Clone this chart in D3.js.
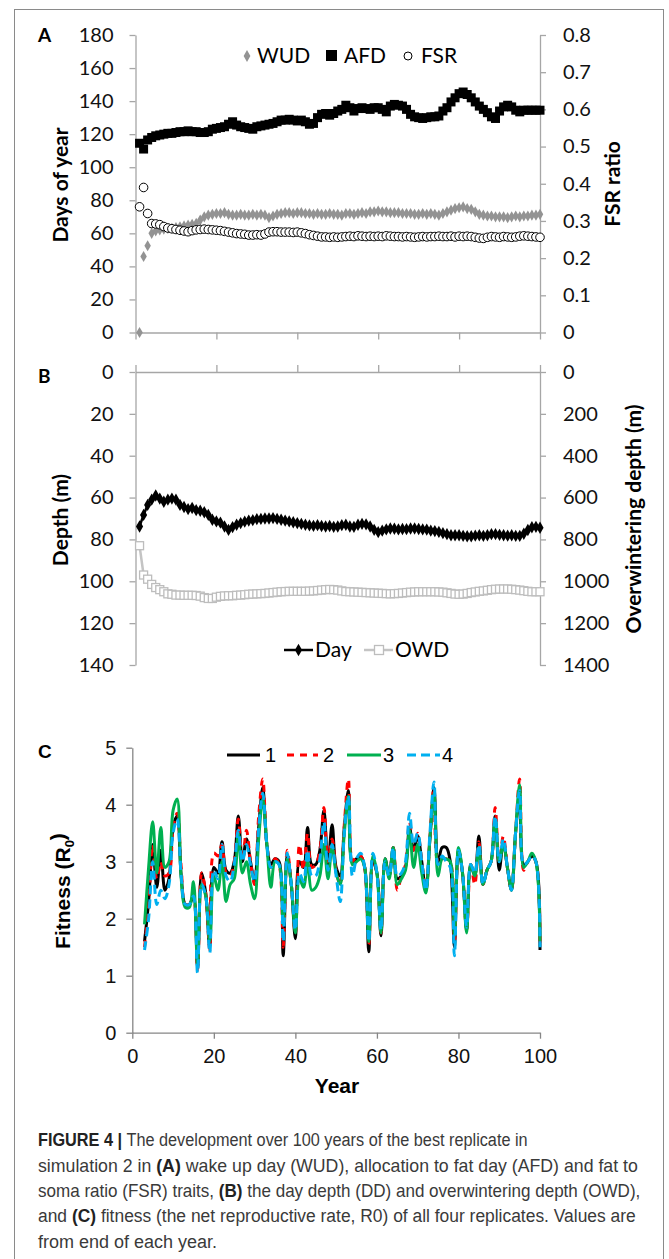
<!DOCTYPE html>
<html><head><meta charset="utf-8">
<script src="https://cdn.jsdelivr.net/npm/d3@7"></script>
<style>body{margin:0;background:#fff}svg{display:block}</style>
</head><body>
<svg id="c" width="669" height="1259"></svg>
<script>
// ---------- DATA ----------
const firstYearAB = 1;
const wud = [0,46,52.5,60,61.5,62,62.5,63,63,63.5,
 64,64.5,65,65.5,66,68,70,71,71.5,72,
 72,72.5,71.5,71,71,71.5,71,71,71.5,71,
 71.5,71,69.5,70.5,71.5,72,72.5,72.5,72,72.5,
 72.5,72,72,71.5,72,71.5,71.5,72,71.5,71.5,
 71,72,72,71.5,72,72.5,72,73,73,73.5,
 73,73,72.5,72.5,72.5,72,72,72,71.5,71.5,
 72,71.5,72,71.5,71,72,73,74,75,75.5,
 76,75,74.5,73,71.5,71,70.5,70.5,70,70,
 70,69.5,70,70.5,70,70.5,70.5,71,71,71.5];
const afd = [114.5,111,116.5,118,119,119.5,120,120.5,120.5,121,
 121.5,121.5,122,121.5,121.5,121,121,121.5,123,123.5,
 124,124.5,126,127.5,125.5,124.5,124,123.5,123,124.5,
 125,125.5,126,126.5,127.5,128.5,128.5,129,128.5,128,
 128.5,127.5,126,126.5,130,132,132.5,131.5,132.5,134,
 135,137.5,136,134,135.5,136,135.5,135,136,136,
 135,133.5,137,138,137.5,137,135,132,130.5,130,
 129.5,130,130.5,130.5,131,134,136,139.5,142,144.5,
 145.5,144,142,139.5,137,135,133,130.5,129.5,134,
 136.5,137.5,136.5,134.5,133.5,134.5,134.5,134.5,134.5,134.5];
const fsr = [0.338,0.39,0.32,0.293,0.292,0.29,0.285,0.281,0.279,0.277,
 0.275,0.273,0.271,0.274,0.276,0.277,0.278,0.277,0.276,0.275,
 0.274,0.272,0.27,0.268,0.266,0.265,0.264,0.262,0.262,0.263,
 0.262,0.265,0.27,0.271,0.271,0.27,0.27,0.27,0.269,0.27,
 0.268,0.266,0.263,0.261,0.259,0.257,0.257,0.256,0.257,0.256,
 0.257,0.258,0.259,0.258,0.26,0.259,0.258,0.259,0.258,0.259,
 0.258,0.26,0.259,0.258,0.258,0.257,0.258,0.257,0.256,0.257,
 0.258,0.257,0.258,0.258,0.259,0.258,0.258,0.259,0.257,0.259,
 0.258,0.259,0.258,0.256,0.254,0.253,0.256,0.258,0.257,0.256,
 0.258,0.257,0.256,0.257,0.259,0.26,0.259,0.258,0.257,0.256];
const dayDepth = [73.8,68.3,63.5,61,59,60.5,62,61,60.5,61,
 63.5,64.5,65.5,65,66,66.3,67,68.3,70.6,71.4,
 72,73.8,75.4,74.1,73,72.2,71.5,71,70.8,70.3,
 70.2,70,70,69.8,70.2,70.6,71,71.4,71.8,72.2,
 72.6,73,73.3,73.5,73.2,73.6,73.8,73.6,74,73.8,
 73.2,73,73.8,74,73,72.6,72.8,73.8,75.4,76.5,
 75.8,75.2,74.8,74.9,75.2,75,75.1,74.8,74.8,75,
 75.2,75.3,75.8,76,76.4,77,77.5,78,78,78,
 78.3,78.5,78.5,78.2,78,78.3,78,77.5,77.5,77.8,
 78,78.2,78,78.3,78.3,77.3,75.5,74.2,74,74.4];
const owd = [830,970,990,1015,1030,1040,1050,1060,1062,1066,
 1066,1067,1067,1067,1068,1071,1078,1082,1082,1076,
 1072,1070,1069,1069,1067,1066,1064,1062,1061,1060,
 1059,1058,1056,1054,1052,1050,1049,1048,1048,1048,
 1048,1048,1047,1046,1044,1042,1040,1039,1040,1042,
 1046,1049,1050,1051,1052,1053,1054,1055,1056,1057,
 1058,1059,1060,1059,1058,1056,1054,1052,1051,1050,
 1050,1050,1050,1050,1051,1052,1055,1058,1061,1062,
 1061,1058,1054,1051,1048,1046,1043,1040,1038,1037,
 1037,1037,1038,1040,1042,1045,1048,1050,1050,1050];
const firstYearC = 3;
const rep1 = [1.6,2.3,3.3,2.55,3.2,2.5,2.7,3.6,3.8,2.75,
 2.25,2.25,2.4,1.15,2.8,2.45,1.5,2.9,2.8,3.35,
 2.85,2.8,3.0,3.8,3.0,3.4,3.0,2.65,3.6,4.3,
 3.3,2.95,3.05,3.0,1.35,3.1,2.6,1.65,3.0,2.9,
 3.6,2.95,2.95,3.2,3.9,2.95,3.65,2.9,2.75,3.6,
 4.25,3.0,3.05,3.1,2.9,1.42,3.0,2.8,1.7,3.05,
 2.75,3.25,2.7,2.75,2.9,3.6,3.2,3.45,3.0,2.5,
 3.4,4.3,3.0,3.25,3.25,3.0,1.5,3.2,2.8,1.8,
 2.95,2.75,3.45,2.6,2.85,3.0,3.8,2.85,3.35,2.9,
 2.5,3.5,4.2,2.95,3.0,3.1,3.0,1.45];
const rep2 = [1.5,2.2,3.3,2.7,3.0,2.75,2.8,3.6,3.85,2.9,
 2.25,2.25,2.4,1.1,2.8,2.45,1.45,3.15,3.1,3.3,
 2.8,2.75,3.0,3.75,3.0,3.55,3.0,2.6,3.8,4.45,
 3.3,2.9,3.05,2.95,1.5,3.2,2.6,1.75,3.3,2.85,
 3.5,2.9,2.95,3.2,3.95,3.0,3.4,2.85,2.6,3.65,
 4.45,3.0,3.1,3.1,2.9,1.55,3.05,2.8,1.75,3.0,
 2.75,3.25,2.5,2.75,2.95,3.7,3.2,3.5,3.0,2.5,
 3.4,4.3,3.0,3.05,3.05,3.0,1.6,3.2,2.8,1.8,
 2.95,2.6,3.35,2.6,2.85,3.0,3.95,3.0,3.45,2.9,
 2.5,3.5,4.45,2.85,3.0,3.1,3.0,1.55];
const rep3 = [1.9,2.9,3.7,2.8,3.6,2.9,3.0,3.9,4.1,2.7,
 2.2,2.2,2.65,1.2,2.6,2.4,1.6,2.75,2.5,3.0,
 2.3,2.6,2.7,3.5,2.8,3.0,2.6,2.35,3.4,4.1,
 3.3,2.55,3.0,2.95,1.9,3.05,2.6,1.75,2.7,2.55,
 3.0,2.5,2.55,2.75,3.3,2.7,3.25,2.8,2.6,3.5,
 4.15,2.95,3.0,3.05,2.9,1.6,3.1,2.8,1.75,3.05,
 2.7,3.25,2.6,2.7,2.85,3.55,2.9,3.3,2.8,2.45,
 3.4,4.2,2.75,3.05,3.05,3.0,1.7,3.25,2.8,1.75,
 2.95,2.75,3.25,2.6,2.85,3.0,3.75,3.0,3.3,2.9,
 2.5,3.5,4.35,2.9,3.0,3.15,3.0,1.6];
const rep4 = [1.45,2.0,3.0,2.25,2.5,2.35,2.6,3.5,3.75,2.75,
 2.25,2.25,2.4,1.05,2.6,2.4,1.4,2.85,2.7,3.3,
 2.75,2.65,2.95,3.55,3.0,3.3,2.95,2.65,3.6,4.2,
 3.3,2.9,3.0,2.95,1.6,3.15,2.6,1.8,2.8,2.65,
 3.2,2.75,2.75,3.05,3.7,2.85,3.3,2.75,2.3,3.5,
 4.15,2.75,3.05,3.15,2.9,1.6,3.15,2.8,1.8,3.0,
 2.75,3.25,2.75,2.8,3.0,3.85,3.3,3.5,3.0,2.5,
 3.5,4.4,2.95,3.1,3.0,2.9,1.35,3.2,2.8,1.85,
 2.95,2.8,3.3,2.6,2.85,3.0,3.8,3.0,3.4,2.9,
 2.5,3.5,4.25,2.95,3.0,3.1,3.0,1.5];
const ticksDays = [0,20,40,60,80,100,120,140,160,180];
const ticksFsr = [0,0.1,0.2,0.3,0.4,0.5,0.6,0.7,0.8];
const ticksDepth = [0,20,40,60,80,100,120,140];
const ticksOwd = [0,200,400,600,800,1000,1200,1400];
const ticksFit = [0,1,2,3,4,5];
const ticksYear = [0,20,40,60,80,100];
const legendA = ["WUD","AFD","FSR"];
const legendB = ["Day","OWD"];
const legendC = ["1","2","3","4"];

// ---------- DRAW ----------
const svg = d3.select('#c');
const FA = 'Lato, "Open Sans", sans-serif';
const FC = '"Liberation Sans", Arial, sans-serif';
const gray = '#a6a6a6';

svg.append('rect').attr('width',669).attr('height',1259).attr('fill','#fff');
svg.append('rect').attr('x',14.5).attr('y',9.5).attr('width',649).attr('height',1260)
  .attr('fill','none').attr('stroke','#8a8a8a').attr('stroke-width',1);

function styleAxis(g, col, font, size){
  g.selectAll('path,line').attr('stroke',col).attr('stroke-width',1.3);
  g.selectAll('text').attr('fill','#111').attr('font-family',font).attr('font-size',size);
}

// ===== Panel A =====
const xA = d3.scaleLinear().domain([0,100]).range([135.5,540]);
const yA = d3.scaleLinear().domain([0,180]).range([332.5,35]);
const yA2 = d3.scaleLinear().domain([0,0.8]).range([332.5,35]);
const yrsA = wud.map((d,i)=>firstYearAB+i);

svg.append('g').attr('transform','translate(0,332.5)')
  .call(d3.axisBottom(xA).tickValues(ticksYear).tickSize(7).tickSizeOuter(0).tickFormat(''))
  .call(g=>styleAxis(g,gray,FA,20));
svg.append('g').attr('transform','translate(135.5,0)')
  .call(d3.axisLeft(yA).tickValues(ticksDays).tickSize(6).tickSizeOuter(0).tickPadding(16))
  .call(g=>styleAxis(g,gray,FA,20));
svg.append('g').attr('transform','translate(540,0)')
  .call(d3.axisRight(yA2).tickValues(ticksFsr).tickSize(6).tickSizeOuter(0).tickPadding(17).tickFormat(d=>d===0?'0':d3.format('.1f')(d)))
  .call(g=>styleAxis(g,gray,FA,20));

const diamond = d3.symbol().type(d3.symbolDiamond);
svg.append('g').selectAll('path').data(wud).join('path')
  .attr('d',diamond.size(36)())
  .attr('transform',(d,i)=>`translate(${xA(yrsA[i])},${yA(d)})`)
  .attr('fill','#939393');
svg.append('g').selectAll('rect').data(afd).join('rect')
  .attr('x',(d,i)=>xA(yrsA[i])-4.5).attr('y',d=>yA(d)-4.5)
  .attr('width',9).attr('height',9).attr('fill','#000');
svg.append('g').selectAll('circle').data(fsr).join('circle')
  .attr('cx',(d,i)=>xA(yrsA[i])).attr('cy',d=>yA2(d)).attr('r',4.3)
  .attr('fill','#fff').attr('stroke','#000').attr('stroke-width',1);

// legend A
const lgA = svg.append('g').attr('font-family',FA).attr('font-size',21).attr('fill','#000');
lgA.append('path').attr('d',diamond.size(40)()).attr('transform','translate(247,56)').attr('fill','#939393');
lgA.append('text').attr('x',257).attr('y',63).text(legendA[0]);
lgA.append('rect').attr('x',326).attr('y',50).attr('width',11).attr('height',11).attr('fill','#000');
lgA.append('text').attr('x',344).attr('y',63).text(legendA[1]);
lgA.append('circle').attr('cx',408).attr('cy',56).attr('r',4).attr('fill','#fff').attr('stroke','#000');
lgA.append('text').attr('x',421).attr('y',63).text(legendA[2]);

svg.append('text').attr('x',38).attr('y',42).attr('font-family',FA).attr('font-weight','bold').attr('font-size',19).text('A');
svg.append('text').attr('transform','translate(61,185) rotate(-90)').attr('text-anchor','middle').attr('dy','0.35em')
  .attr('font-family',FA).attr('font-weight','bold').attr('font-size',21).text('Days of year');
svg.append('text').attr('transform','translate(613,184) rotate(-90)').attr('text-anchor','middle').attr('dy','0.35em')
  .attr('font-family',FA).attr('font-weight','bold').attr('font-size',21).text('FSR ratio');

// ===== Panel B =====
const yB = d3.scaleLinear().domain([0,140]).range([372,665]);
const yB2 = d3.scaleLinear().domain([0,1400]).range([372,665]);
svg.append('g').attr('transform','translate(0,372)')
  .call(d3.axisTop(xA).tickValues(ticksYear).tickSize(7).tickSizeOuter(0).tickFormat(''))
  .call(g=>styleAxis(g,gray,FA,20));
svg.append('g').attr('transform','translate(135.5,0)')
  .call(d3.axisLeft(yB).tickValues(ticksDepth).tickSize(6).tickSizeOuter(0).tickPadding(16))
  .call(g=>styleAxis(g,gray,FA,20));
svg.append('g').attr('transform','translate(540,0)')
  .call(d3.axisRight(yB2).tickValues(ticksOwd).tickSize(6).tickSizeOuter(0).tickPadding(17).tickFormat(d3.format('d')))
  .call(g=>styleAxis(g,gray,FA,20));

const lineB = d3.line().x((d,i)=>xA(yrsA[i]));
svg.append('path').datum(owd).attr('d',lineB.y(d=>yB2(d))).attr('fill','none').attr('stroke','#c4c4c4').attr('stroke-width',2.5);
svg.append('g').selectAll('rect').data(owd).join('rect')
  .attr('x',(d,i)=>xA(yrsA[i])-4).attr('y',d=>yB2(d)-4).attr('width',8).attr('height',8)
  .attr('fill','#fff').attr('stroke','#bdbdbd').attr('stroke-width',1.3);
svg.append('path').datum(dayDepth).attr('d',lineB.y(d=>yB(d))).attr('fill','none').attr('stroke','#000').attr('stroke-width',2.5);
svg.append('g').selectAll('path').data(dayDepth).join('path')
  .attr('d',diamond.size(44)())
  .attr('transform',(d,i)=>`translate(${xA(yrsA[i])},${yB(d)})`).attr('fill','#000');

const lgB = svg.append('g').attr('font-family',FA).attr('font-size',21).attr('fill','#000');
lgB.append('line').attr('x1',284).attr('x2',313).attr('y1',650).attr('y2',650).attr('stroke','#000').attr('stroke-width',2.5);
lgB.append('path').attr('d',diamond.size(44)()).attr('transform','translate(298.5,650)').attr('fill','#000');
lgB.append('text').attr('x',315).attr('y',657).text(legendB[0]);
lgB.append('line').attr('x1',364).attr('x2',393).attr('y1',650).attr('y2',650).attr('stroke','#c4c4c4').attr('stroke-width',2.5);
lgB.append('rect').attr('x',374.5).attr('y',645.5).attr('width',9).attr('height',9).attr('fill','#fff').attr('stroke','#bdbdbd').attr('stroke-width',1.3);
lgB.append('text').attr('x',395).attr('y',657).text(legendB[1]);

svg.append('text').attr('x',38).attr('y',383).attr('font-family',FA).attr('font-weight','bold').attr('font-size',19).text('B');
svg.append('text').attr('transform','translate(61,520) rotate(-90)').attr('text-anchor','middle').attr('dy','0.35em')
  .attr('font-family',FA).attr('font-weight','bold').attr('font-size',21).text('Depth (m)');
svg.append('text').attr('transform','translate(634,519) rotate(-90)').attr('text-anchor','middle').attr('dy','0.35em')
  .attr('font-family',FA).attr('font-weight','bold').attr('font-size',21).text('Overwintering depth (m)');

// ===== Panel C =====
const xC = d3.scaleLinear().domain([0,100]).range([132.3,540]);
const yC = d3.scaleLinear().domain([0,5]).range([1032.7,747.7]);
const cGray = '#868686';
svg.append('g').attr('transform','translate(0,1032.7)')
  .call(d3.axisBottom(xC).tickValues(ticksYear).tickSize(6).tickSizeOuter(0).tickPadding(10).tickFormat(d3.format('d')))
  .call(g=>styleAxis(g,cGray,FC,20));
svg.append('g').attr('transform','translate(132.3,0)')
  .call(d3.axisLeft(yC).tickValues(ticksFit).tickSize(6).tickSizeOuter(0).tickPadding(10).tickFormat(d3.format('d')))
  .call(g=>styleAxis(g,cGray,FC,20));

const reps = [
  {v:rep1,c:'#000000',dash:null},
  {v:rep2,c:'#ff0000',dash:'7,6'},
  {v:rep3,c:'#00b050',dash:null},
  {v:rep4,c:'#00b0f0',dash:'9,5'}];
const lineC = d3.line().x((d,i)=>xC(firstYearC+i)).y(d=>yC(d)).curve(d3.curveCatmullRom.alpha(0.5));
reps.forEach(r=>{
  svg.append('path').datum(r.v).attr('d',lineC).attr('fill','none')
    .attr('stroke',r.c).attr('stroke-width',3).attr('stroke-dasharray',r.dash);
});
const lgC = svg.append('g').attr('font-family',FC).attr('font-size',20).attr('fill','#000');
const lgPos = [[227,260,265],[287,318,323],[347,381,383],[407,440,442]];
reps.forEach((r,i)=>{
  lgC.append('line').attr('x1',lgPos[i][0]).attr('x2',lgPos[i][1]).attr('y1',755).attr('y2',755)
    .attr('stroke',r.c).attr('stroke-width',3).attr('stroke-dasharray',r.dash);
  lgC.append('text').attr('x',lgPos[i][2]).attr('y',762).text(legendC[i]);
});
svg.append('text').attr('x',38).attr('y',758).attr('font-family',FC).attr('font-weight','bold').attr('font-size',19).text('C');
const ft = svg.append('text').attr('transform','translate(63,891) rotate(-90)').attr('text-anchor','middle').attr('dy','0.35em')
  .attr('font-family',FC).attr('font-weight','bold').attr('font-size',21);
ft.append('tspan').text('Fitness (R');
ft.append('tspan').attr('font-size',13).attr('dy','0.3em').text('0');
ft.append('tspan').attr('dy','-0.45em').text(')');
svg.append('text').attr('x',337).attr('y',1093).attr('text-anchor','middle')
  .attr('font-family',FC).attr('font-weight','bold').attr('font-size',21).text('Year');

// ===== Caption =====
const capFont = '"Liberation Sans", Arial, sans-serif';
const capLines = [
  [['b','FIGURE 4 | '],['n','The development over 100 years of the best replicate in']],
  [['n','simulation 2 in '],['b','(A)'],['n',' wake up day (WUD), allocation to fat day (AFD) and fat to']],
  [['n','soma ratio (FSR) traits, '],['b','(B)'],['n',' the day depth (DD) and overwintering depth (OWD),']],
  [['n','and '],['b','(C)'],['n',' fitness (the net reproductive rate, R0) of all four replicates. Values are']],
  [['n','from end of each year.']]];
const capY = [1146,1172,1197,1222,1248];
const capW = [490, 600, 603, 598, 0];
capLines.forEach((ln,i)=>{
  const g = svg.append('g');
  const t = g.append('text').attr('x',0).attr('y',0).attr('font-family',capFont)
    .attr('font-size',18).attr('fill','#333');
  ln.forEach(s=>t.append('tspan').attr('font-weight',s[0]==='b'?'bold':'normal')
    .attr('fill',s[0]==='b'?'#222':'#3a3a3a').text(s[1]));
  const w = t.node().getComputedTextLength();
  const sx = capW[i] ? Math.min(1, capW[i]/w) : 1;
  g.attr('transform',`translate(38,${capY[i]}) scale(${sx},1)`);
});
</script>
</body></html>
